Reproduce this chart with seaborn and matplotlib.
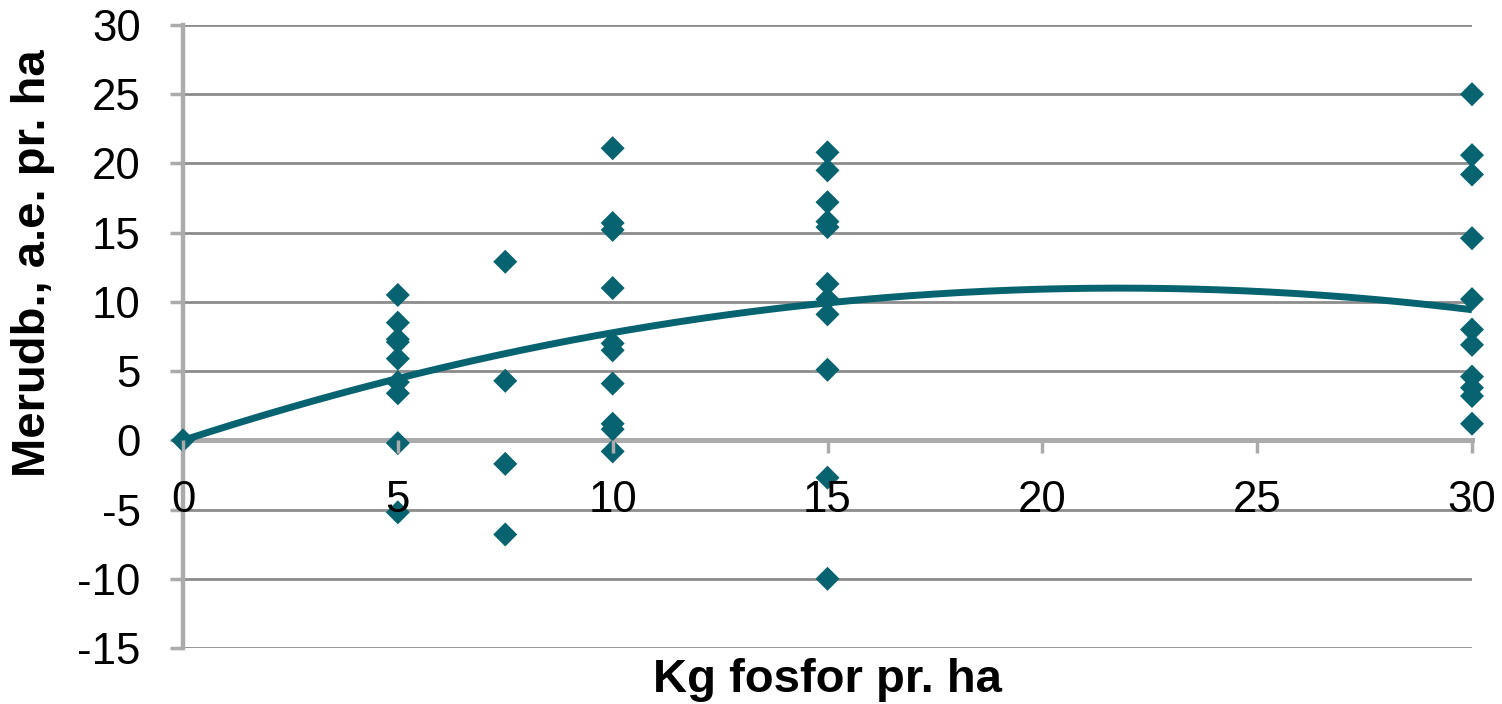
import numpy as np
import pandas as pd
import matplotlib
matplotlib.use("Agg")
import matplotlib.pyplot as plt
import seaborn as sns

# ---- data ----
dose_levels = [0, 5, 7.5, 10, 15, 30]
yield_0 = [0.0]
yield_5 = [10.5, 8.5, 7.3, 7.1, 5.9, 4.2, 3.4, -0.2, -5.2]
yield_7_5 = [12.9, 4.3, -1.7, -6.8]
yield_10 = [21.1, 15.7, 15.2, 11.0, 7.0, 6.5, 4.1, 1.2, 0.8, -0.8]
yield_15 = [20.8, 19.5, 17.2, 15.8, 15.4, 11.3, 10.2, 9.1, 5.1, -2.7, -10.0]
yield_30 = [25.0, 20.6, 19.2, 14.6, 10.2, 8.0, 6.9, 4.6, 3.8, 3.2, 1.2]

# polynomial (order 2) trendline coefficients: y = c1*x + c2*x^2
trend_coef = [1.009, -0.02315]

x_label = "Kg fosfor pr. ha"
y_label = "Merudb., a.e. pr. ha"
x_ticks = [0, 5, 10, 15, 20, 25, 30]
y_ticks = [-15, -10, -5, 0, 5, 10, 15, 20, 25, 30]

groups = [yield_0, yield_5, yield_7_5, yield_10, yield_15, yield_30]
df = pd.DataFrame({
    "dose": np.concatenate([[d] * len(g) for d, g in zip(dose_levels, groups)]),
    "merudbytte": np.concatenate(groups),
})

trend_x = np.linspace(min(dose_levels), max(dose_levels), 200)
trend_df = pd.DataFrame({
    "dose": trend_x,
    "merudbytte": trend_coef[0] * trend_x + trend_coef[1] * trend_x ** 2,
})

teal = "#07636F"
grid_c = "#8C8C8C"
axis_c = "#ABABAB"

sns.set_theme(style="white")
plt.rcParams["font.family"] = ["Liberation Sans", "DejaVu Sans"]

fig = plt.figure(figsize=(15.02, 7.04), dpi=100)
ax = fig.add_axes([183 / 1502, 1 - 648 / 704, (1472 - 183) / 1502, (648 - 25) / 704])

sns.scatterplot(data=df, x="dose", y="merudbytte", marker="D", s=150,
                color=teal, edgecolor="none", linewidth=0, ax=ax, zorder=3,
                clip_on=False)
sns.lineplot(data=trend_df, x="dose", y="merudbytte", color=teal, linewidth=5.0,
             ax=ax, zorder=4, solid_capstyle="butt")

ax.set_xlim(0, 30)
ax.set_ylim(-15, 30)
ax.set_xticks(x_ticks)
ax.set_yticks(y_ticks)
ax.set_xticklabels([str(t) for t in x_ticks])
ax.set_yticklabels([str(t) for t in y_ticks])

ax.yaxis.grid(True, color=grid_c, linewidth=2.0)
ax.xaxis.grid(False)
ax.set_axisbelow(True)
ax.xaxis.set_zorder(5)

for s in ["top", "right"]:
    ax.spines[s].set_visible(False)
ax.spines["bottom"].set_position(("data", 0))
ax.spines["left"].set_color(axis_c)
ax.spines["bottom"].set_color(axis_c)
ax.spines["left"].set_linewidth(3.2)
ax.spines["bottom"].set_linewidth(3.6)
ax.spines["left"].set_zorder(1)
ax.spines["bottom"].set_zorder(1)

ax.tick_params(axis="both", which="major", direction="out", length=9.5, width=2.5,
               color=axis_c, labelsize=31.5, labelcolor="black",
               left=True, bottom=True)
ax.tick_params(axis="y", pad=21)
ax.tick_params(axis="x", pad=19)

ax.set_xlabel(x_label, fontsize=34, fontweight="bold", color="black")
ax.set_ylabel(y_label, fontsize=34, fontweight="bold", color="black")
ax.xaxis.set_label_coords(0.5, (648 - 658) / 623)
ax.yaxis.set_label_coords((55 - 183) / 1289, (648 - 263) / 623)

fig.savefig("out.png", dpi=100, facecolor="white")
